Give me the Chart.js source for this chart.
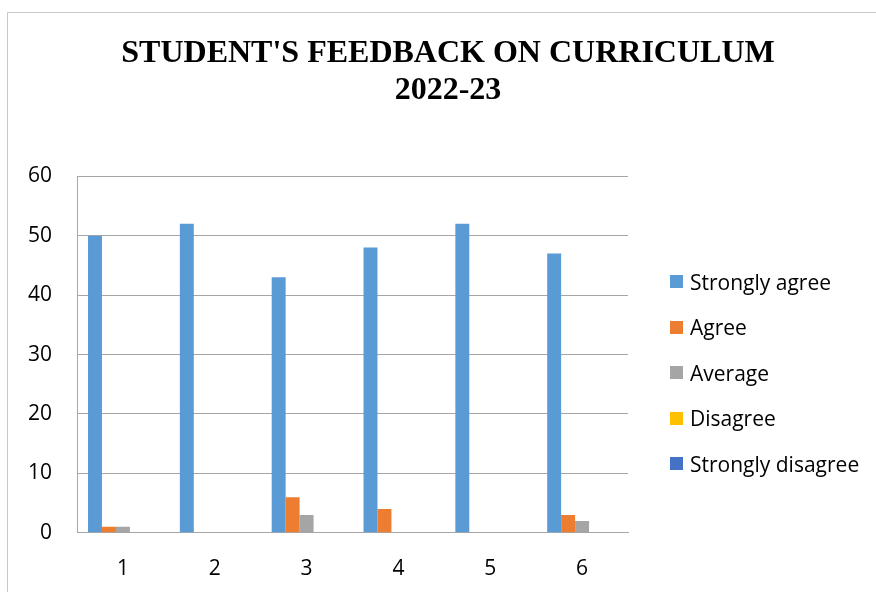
<!DOCTYPE html>
<html>
<head>
<meta charset="utf-8">
<script src="https://cdn.jsdelivr.net/npm/chart.js@4"></script>
<style>
  html, body { margin: 0; padding: 0; background: #fff; }
  #frame {
    position: absolute; left: 7px; top: 12px; width: 900px; height: 600px;
    border: 1px solid #c8c8c8; box-sizing: border-box;
  }
  #wrap { position: absolute; left: 0; top: 0; width: 876px; height: 592px; }
  #legend {
    position: absolute; left: 670px; top: 259px;
    font-family: 'Open Sans', 'Noto Sans', sans-serif; font-size: 21px; color: #000;
  }
  #legend .item { display: flex; align-items: center; height: 45.5px; white-space: nowrap; }
  #legend .box { width: 13px; height: 13px; margin-right: 7px; }
</style>
</head>
<body>
<div id="frame"></div>
<div id="wrap"><canvas id="chart" width="876" height="592"></canvas></div>
<div id="legend"></div>
<script>
// categories and series
const categories = ['1', '2', '3', '4', '5', '6'];
const seriesNames = ['Strongly agree', 'Agree', 'Average', 'Disagree', 'Strongly disagree'];
const stronglyAgree = [50, 52, 43, 48, 52, 47];
const agree = [1, 0, 6, 4, 0, 3];
const average = [1, 0, 3, 0, 0, 2];
const disagree = [0, 0, 0, 0, 0, 0];
const stronglyDisagree = [0, 0, 0, 0, 0, 0];
const yTicks = [0, 10, 20, 30, 40, 50, 60];

const colors = ['#5B9BD5', '#ED7D31', '#A5A5A5', '#FFC000', '#4472C4'];
const seriesData = [stronglyAgree, agree, average, disagree, stronglyDisagree];
const bodyFont = "'Open Sans', 'Noto Sans', sans-serif";

const ctx = document.getElementById('chart').getContext('2d');

const chart = new Chart(ctx, {
  type: 'bar',
  data: {
    labels: categories,
    datasets: seriesNames.map((name, i) => ({
      label: name,
      data: seriesData[i],
      backgroundColor: colors[i],
    })),
  },
  options: {
    responsive: false,
    animation: false,
    layout: { padding: { left: 24, right: 4, top: 35, bottom: -14 } },
    datasets: {
      bar: { categoryPercentage: 0.76, barPercentage: 1.0 },
    },
    plugins: {
      title: {
        display: true,
        text: ["STUDENT'S FEEDBACK ON CURRICULUM", '2022-23'],
        color: '#000',
        font: { family: "'Liberation Serif', 'Times New Roman', serif", size: 32, weight: 'bold', lineHeight: 1.16 },
        padding: { top: 0, bottom: 67 },
      },
      legend: { display: false },
      tooltip: { enabled: false },
    },
    scales: {
      x: {
        grid: { display: false, drawTicks: false },
        border: { color: '#a6a6a6', width: 1 },
        ticks: { color: '#000', font: { family: bodyFont, size: 21 }, padding: 24 },
      },
      y: {
        min: 0,
        max: 60,
        afterBuildTicks: (axis) => { axis.ticks = yTicks.map(v => ({ value: v })); },
        afterFit: (axis) => { axis.width = 53; },
        grid: { color: '#a6a6a6', drawTicks: false },
        border: { color: '#a6a6a6', width: 1 },
        ticks: { color: '#000', font: { family: bodyFont, size: 21 }, padding: 25 },
      },
      // empty space on the right that holds the legend
      gap: {
        type: 'linear',
        position: 'right',
        display: true,
        afterFit: (axis) => { axis.width = 244; },
        grid: { display: false, drawTicks: false },
        border: { display: false },
        ticks: { display: false },
      },
    },
  },
});

// legend as html, built from the chart's datasets
const legendEl = document.getElementById('legend');
chart.data.datasets.forEach(ds => {
  const item = document.createElement('div');
  item.className = 'item';
  const box = document.createElement('span');
  box.className = 'box';
  box.style.background = ds.backgroundColor;
  const text = document.createElement('span');
  text.textContent = ds.label;
  item.appendChild(box);
  item.appendChild(text);
  legendEl.appendChild(item);
});
</script>
</body>
</html>
